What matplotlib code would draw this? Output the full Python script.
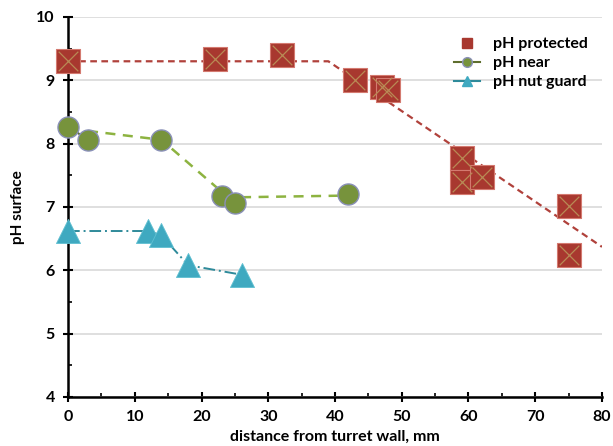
import matplotlib.pyplot as plt
from matplotlib.ticker import MultipleLocator
from matplotlib.lines import Line2D

plt.rcParams['font.family'] = ['Lato', 'DejaVu Sans']
plt.rcParams['font.weight'] = 'bold'

# pH protected (squares) and its trend line
prot_x = [0, 22, 32, 43, 47, 48, 59, 59, 62, 75, 75]
prot_y = [9.30, 9.33, 9.40, 9.00, 8.90, 8.84, 7.77, 7.40, 7.48, 7.02, 6.24]
prot_trend_x = [0, 39, 80]
prot_trend_y = [9.30, 9.30, 6.37]

# pH near (circles) and its trend line
near_x = [0, 3, 14, 23, 25, 42]
near_y = [8.27, 8.06, 8.06, 7.18, 7.07, 7.20]
near_trend_x = [3, 14, 24, 42]
near_trend_y = [8.20, 8.06, 7.15, 7.18]

# pH nut guard (triangles)
nut_x = [0, 12, 14, 18, 26]
nut_y = [6.62, 6.62, 6.55, 6.08, 5.93]

red = '#A8382F'
red_line = '#B0413B'
green = '#77933C'
teal = '#3FA9C0'
teal_line = '#2E8A9A'

fig = plt.figure(figsize=(6.13, 4.46), dpi=100)
ax = fig.add_axes([0.111, 0.11, 0.871, 0.852])

ax.plot(prot_trend_x, prot_trend_y, color=red_line, lw=1.6, ls=(0, (3, 2)), zorder=2)
ax.plot(near_trend_x, near_trend_y, color='#8DB340', lw=1.8, ls=(0, (4, 3)), zorder=2)
ax.plot(near_x[:2], near_y[:2], color='#5E6E2E', lw=1.5, zorder=2)
ax.plot(nut_x, nut_y, color=teal_line, lw=1.4, ls=(0, (6, 2, 1, 2)), zorder=2)

ax.scatter(prot_x, prot_y, marker='s', s=300, color=red, edgecolors='#D47A70', lw=0.8,
           zorder=5, clip_on=False)
ax.scatter(prot_x, prot_y, marker='x', s=200, color='#B98A55', lw=0.9, zorder=6, clip_on=False)
ax.scatter(near_x, near_y, marker='o', s=230, color=green, edgecolors='#8A90B8', lw=1.0,
           zorder=5, clip_on=False)
ax.scatter(nut_x, nut_y, marker='^', s=300, color=teal, edgecolors='#5FC0D2', lw=0.6,
           zorder=5, clip_on=False)

ax.set_xlim(0, 80)
ax.set_ylim(4, 10)
ax.xaxis.set_major_locator(MultipleLocator(10))
ax.xaxis.set_minor_locator(MultipleLocator(5))
ax.yaxis.set_major_locator(MultipleLocator(1))
ax.yaxis.set_minor_locator(MultipleLocator(0.5))
ax.tick_params(which='major', direction='inout', length=7, width=1.5, labelsize=11.5, pad=6)
ax.tick_params(which='minor', direction='in', length=3, width=1.2)
for lab in ax.get_xticklabels() + ax.get_yticklabels():
    lab.set_fontweight('bold')

ax.grid(axis='y', color='#D9D9D9', lw=1.2, zorder=0)
ax.set_axisbelow(True)
for s in ['top', 'right']:
    ax.spines[s].set_visible(False)
for s in ['left', 'bottom']:
    ax.spines[s].set_linewidth(1.8)

ax.set_xlabel('distance from turret wall, mm', fontsize=11.5, fontweight='bold', labelpad=4)
ax.set_ylabel('pH surface', fontsize=11, fontweight='bold', labelpad=8)

handles = [
    Line2D([], [], ls='none', marker='s', ms=7, color=red),
    Line2D([], [], color='#5E6E2E', marker='o', ms=7, mfc=green, mec='#8A90B8'),
    Line2D([], [], color=teal_line, marker='^', ms=7, mfc=teal, mec=teal),
]
ax.legend(handles, ['pH protected', 'pH near', 'pH nut guard'], loc='upper right',
          bbox_to_anchor=(1.0, 0.985), frameon=False, handlelength=1.6,
          labelspacing=0.3, prop={'weight': 'bold', 'size': 11.5})

fig.savefig('out.png', dpi=100)
